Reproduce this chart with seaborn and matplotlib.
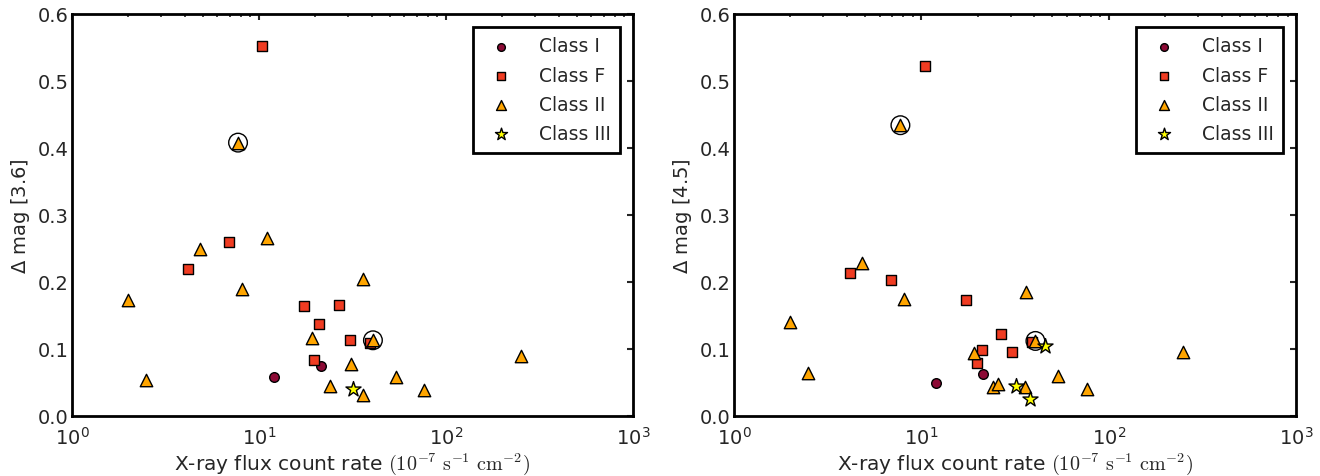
import numpy as np
import pandas as pd
import matplotlib
matplotlib.use("Agg")
import matplotlib.pyplot as plt
import seaborn as sns

sns.set_style("white")
plt.rcParams['font.family'] = ['DejaVu Sans']

# ---- data: left panel, Delta mag [3.6] ----
l_classI_x = [12.0, 21.4]
l_classI_y = [0.058, 0.075]
l_classF_x = [10.4, 4.17, 6.92, 17.4, 21.0, 26.8, 19.8, 30.5, 39.1]
l_classF_y = [0.552, 0.219, 0.260, 0.164, 0.138, 0.166, 0.083, 0.113, 0.109]
l_classII_x = [7.73, 2.0, 2.49, 4.83, 8.09, 11.05, 19.2, 24.1, 31.2, 36.2, 36.0, 40.7, 53.8, 76.2, 251.0]
l_classII_y = [0.408, 0.173, 0.054, 0.249, 0.190, 0.266, 0.116, 0.045, 0.078, 0.204, 0.031, 0.113, 0.058, 0.039, 0.090]
l_classIII_x = [31.8]
l_classIII_y = [0.040]
l_circled_x = [7.73, 40.7]
l_circled_y = [0.408, 0.113]

# ---- data: right panel, Delta mag [4.5] ----
r_classI_x = [12.0, 21.3]
r_classI_y = [0.049, 0.063]
r_classF_x = [10.4, 4.18, 6.89, 17.3, 21.0, 19.8, 26.7, 30.6, 38.8]
r_classF_y = [0.523, 0.214, 0.203, 0.173, 0.099, 0.079, 0.123, 0.095, 0.110]
r_classII_x = [7.73, 1.99, 2.47, 4.82, 8.08, 19.1, 24.1, 25.5, 36.1, 35.9, 40.6, 53.5, 76.4, 250.0]
r_classII_y = [0.434, 0.141, 0.064, 0.228, 0.175, 0.094, 0.044, 0.048, 0.185, 0.044, 0.112, 0.059, 0.040, 0.096]
r_classIII_x = [32.0, 37.9, 45.9]
r_classIII_y = [0.045, 0.025, 0.105]
r_circled_x = [7.73, 40.6]
r_circled_y = [0.434, 0.112]

class_names = ["Class I", "Class F", "Class II", "Class III"]
ylabels = [r"$\Delta$ mag [3.6]", r"$\Delta$ mag [4.5]"]
xlabel = r"X-ray flux count rate $(10^{-7}\ \mathrm{s}^{-1}\ \mathrm{cm}^{-2})$"

styles = {
    "Class I": dict(marker="o", color="#8c0a35", s=48),
    "Class F": dict(marker="s", color="#f03c22", s=48),
    "Class II": dict(marker="^", color="#ffa500", s=80),
    "Class III": dict(marker="*", color="#ffff00", s=130),
}

panels = [
    dict(data={"Class I": (l_classI_x, l_classI_y), "Class F": (l_classF_x, l_classF_y),
               "Class II": (l_classII_x, l_classII_y), "Class III": (l_classIII_x, l_classIII_y)},
         circ=(l_circled_x, l_circled_y), ylabel=ylabels[0]),
    dict(data={"Class I": (r_classI_x, r_classI_y), "Class F": (r_classF_x, r_classF_y),
               "Class II": (r_classII_x, r_classII_y), "Class III": (r_classIII_x, r_classIII_y)},
         circ=(r_circled_x, r_circled_y), ylabel=ylabels[1]),
]

fig = plt.figure(figsize=(13.2, 4.77), dpi=100)
axes = [fig.add_axes([0.0545, 0.1258, 0.425, 0.8428]),
        fig.add_axes([0.556, 0.1258, 0.426, 0.8428])]

for ax, p in zip(axes, panels):
    for name in class_names:
        xs, ys = p["data"][name]
        st = styles[name]
        df = pd.DataFrame({"x": xs, "y": ys})
        sns.scatterplot(data=df, x="x", y="y", ax=ax, marker=st["marker"], color=st["color"],
                        s=st["s"], edgecolor="black", linewidth=1.0, label=name, zorder=3)
    cdf = pd.DataFrame({"x": p["circ"][0], "y": p["circ"][1]})
    sns.scatterplot(data=cdf, x="x", y="y", ax=ax, marker="o", s=180, facecolor="none",
                    edgecolor="black", linewidth=1.0, zorder=4, legend=False)
    ax.set_xscale("log")
    ax.set_xlim(1, 1000)
    ax.set_ylim(0, 0.6)
    ax.set_yticks(np.arange(0, 0.61, 0.1))
    ax.set_yticklabels([f"{v:.1f}" for v in np.arange(0, 0.61, 0.1)])
    ax.set_ylabel(p["ylabel"], fontsize=14, labelpad=4)
    ax.set_xlabel(xlabel, fontsize=14.5, labelpad=2)
    ax.xaxis.label.set_math_fontfamily("cm")
    ax.yaxis.label.set_math_fontfamily("dejavusans")
    ax.tick_params(which="major", direction="in", length=4.5, width=1.5, top=True, right=True,
                   labelsize=14)
    ax.tick_params(axis="y", which="major", pad=2.5)
    ax.tick_params(axis="x", which="major", pad=7)
    ax.tick_params(which="minor", direction="in", length=2.5, width=1.2, top=True, right=True)
    for sp in ax.spines.values():
        sp.set_linewidth(2.0)
        sp.set_color("black")
    leg = ax.legend(loc="upper right", fontsize=13.5, frameon=True, fancybox=False,
                    edgecolor="black", framealpha=1, borderpad=0.5, handletextpad=1.0,
                    labelspacing=0.55, scatterpoints=1, borderaxespad=0.7, markerscale=0.8)
    leg.get_frame().set_linewidth(2.0)

fig.savefig("out.png", dpi=100)
